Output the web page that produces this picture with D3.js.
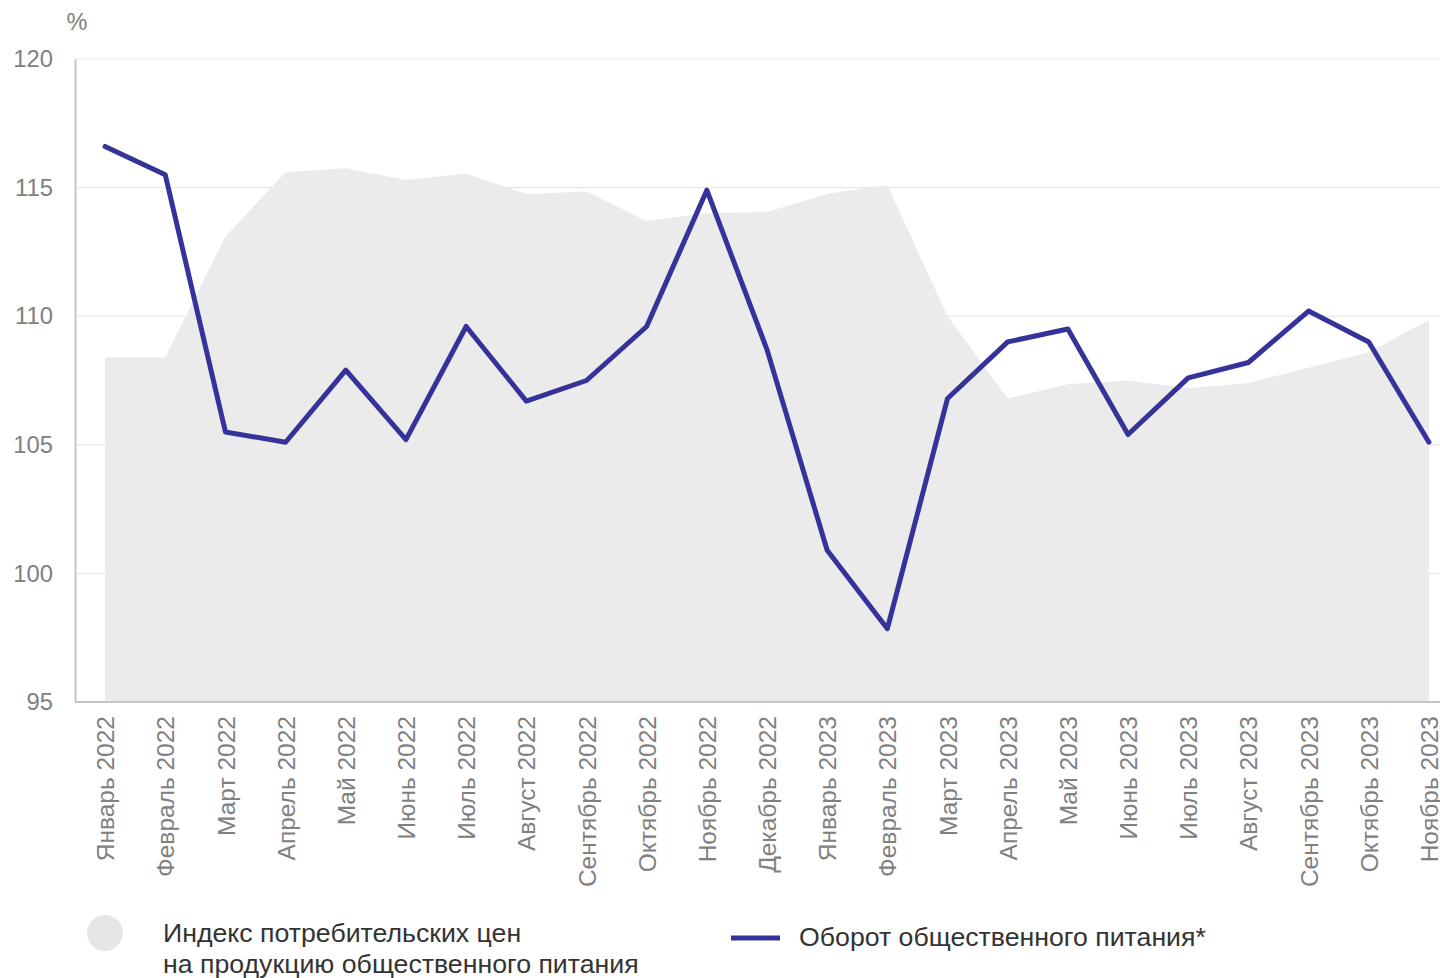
<!DOCTYPE html>
<html><head><meta charset="utf-8">
<script src="https://cdn.jsdelivr.net/npm/d3@7"></script>
<style>
html,body{margin:0;padding:0;background:#fff;overflow:hidden}
svg{display:block;font-family:"Liberation Sans",Arial,sans-serif}
</style></head>
<body>
<svg id="chart" width="1440" height="978"></svg>
<script>
const months = ["Январь 2022","Февраль 2022","Март 2022","Апрель 2022","Май 2022","Июнь 2022","Июль 2022","Август 2022","Сентябрь 2022","Октябрь 2022","Ноябрь 2022","Декабрь 2022","Январь 2023","Февраль 2023","Март 2023","Апрель 2023","Май 2023","Июнь 2023","Июль 2023","Август 2023","Сентябрь 2023","Октябрь 2023","Ноябрь 2023"];
const cpiValues = [108.4,108.4,113.1,115.6,115.75,115.3,115.55,114.75,114.85,113.7,114.0,114.05,114.75,115.1,110.0,106.8,107.35,107.5,107.2,107.4,108.0,108.6,109.85];
const turnoverValues = [116.6,115.5,105.5,105.1,107.9,105.2,109.6,106.7,107.5,109.6,114.9,108.7,100.9,97.85,106.8,109.0,109.5,105.4,107.6,108.2,110.2,109.0,105.1];
const yTicks = [95,100,105,110,115,120];
const legendCpi = ["Индекс потребительских цен","на продукцию общественного питания"];
const legendTurnover = "Оборот общественного питания*";

const svg = d3.select("#chart");
const x = d3.scalePoint().domain(months).range([75,1459]).padding(0.5);
const y = d3.scaleLinear().domain([95,120]).range([702,59]);

// grid
svg.append("g").selectAll("line").data(yTicks.filter(d=>d>95)).join("line")
  .attr("x1",75).attr("x2",1440).attr("y1",d=>y(d)).attr("y2",d=>y(d))
  .attr("stroke","#e8e8e8").attr("stroke-width",1.2);

// area
const area = d3.area().x((d,i)=>x(months[i])).y0(y(95)).y1(d=>y(d));
svg.append("path").datum(cpiValues).attr("d",area).attr("fill","#ebebeb");

// axes
const yAxis = d3.axisLeft(y).tickValues(yTicks).tickSize(0).tickPadding(22);
const gy = svg.append("g").attr("transform","translate(75,0)").call(yAxis);
gy.select(".domain").attr("stroke","#c6c6c6").attr("stroke-width",2);
gy.selectAll("text").attr("fill","#808080").attr("font-size",23.8).attr("font-family","Liberation Sans, Arial, sans-serif");

const xAxis = d3.axisBottom(x).tickSize(0).tickPadding(0);
const gx = svg.append("g").attr("transform","translate(0,702)").call(xAxis);
gx.select(".domain").attr("d","M75,0H1440").attr("stroke","#c6c6c6").attr("stroke-width",2);
gx.selectAll("text").attr("fill","#808080").attr("font-size",24.5).attr("font-family","Liberation Sans, Arial, sans-serif")
  .attr("text-anchor","end").attr("transform","rotate(-90)").attr("x",-14).attr("y",0).attr("dy","0.35em");

// % label
svg.append("text").attr("x",77).attr("y",30).attr("text-anchor","middle").attr("fill","#808080").attr("font-size",23.5).text("%");

// line
const line = d3.line().x((d,i)=>x(months[i])).y(d=>y(d));
svg.append("path").datum(turnoverValues).attr("d",line).attr("fill","none")
  .attr("stroke","#353399").attr("stroke-width",5).attr("stroke-linejoin","round").attr("stroke-linecap","round");

// legend
svg.append("circle").attr("cx",105).attr("cy",933).attr("r",18).attr("fill","#e6e6e6");
svg.append("text").attr("x",163).attr("y",942).attr("fill","#333").attr("font-size",26.7).text(legendCpi[0]);
svg.append("text").attr("x",163).attr("y",973).attr("fill","#333").attr("font-size",26.7).text(legendCpi[1]);
svg.append("line").attr("x1",731).attr("x2",780).attr("y1",938).attr("y2",938).attr("stroke","#353399").attr("stroke-width",5);
svg.append("text").attr("x",799).attr("y",946).attr("fill","#333").attr("font-size",26.7).text(legendTurnover);
</script>
</body></html>
